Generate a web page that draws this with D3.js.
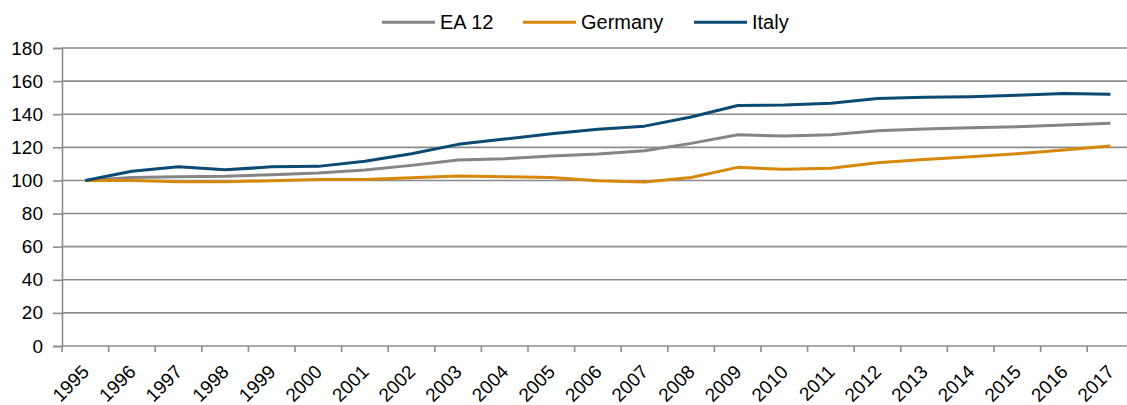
<!DOCTYPE html>
<html>
<head>
<meta charset="utf-8">
<script src="https://cdn.jsdelivr.net/npm/d3@7"></script>
<style>
  html, body { margin: 0; padding: 0; background: #fff; }
  svg { display: block; font-family: Arial, "Liberation Sans", sans-serif; }
</style>
</head>
<body>
<svg id="chart" width="1127" height="405"></svg>
<script>
const years = ["1995","1996","1997","1998","1999","2000","2001","2002","2003","2004","2005","2006","2007","2008","2009","2010","2011","2012","2013","2014","2015","2016","2017"];
const ea12 =    [100, 101.8, 102.2, 102.5, 103.5, 104.5, 106.3, 109.1, 112.3, 113.1, 114.7, 115.9, 117.9, 122.4, 127.6, 126.8, 127.6, 130.0, 131.0, 131.8, 132.4, 133.5, 134.5];
const germany = [100, 100.0, 99.2, 99.2, 99.8, 100.6, 100.6, 101.6, 102.7, 102.2, 101.8, 99.8, 99.0, 101.8, 107.9, 106.7, 107.3, 110.7, 112.7, 114.3, 116.1, 118.4, 120.8];
const italy =   [100, 105.6, 108.3, 106.4, 108.2, 108.5, 111.6, 116.1, 121.8, 125.0, 128.2, 130.9, 132.8, 138.3, 145.3, 145.6, 146.6, 149.5, 150.3, 150.6, 151.5, 152.5, 152.0];
const yTicks = [0, 20, 40, 60, 80, 100, 120, 140, 160, 180];

const seriesNames = ["EA 12", "Germany", "Italy"];
const seriesColors = ["#858585", "#d9870a", "#0b4a72"];
const seriesData = [ea12, germany, italy];

const svg = d3.select("#chart");
const left = 62, bandW = 46.6;
const x = d3.scaleBand().domain(years).range([left, left + bandW * years.length]).padding(0);
const y = d3.scaleLinear().domain([0, 180]).range([346, 48]);
const gridColor = "#8c8c8c";
const font = 'Arial, "Liberation Sans", sans-serif';

// gridlines
svg.append("g").selectAll("line").data(yTicks.filter(d => d > 0)).join("line")
  .attr("x1", left).attr("x2", x.range()[1])
  .attr("y1", d => y(d)).attr("y2", d => y(d))
  .attr("stroke", gridColor).attr("stroke-width", 1.6);

// y axis
const yAxis = svg.append("g").attr("transform", `translate(${left},0)`)
  .call(d3.axisLeft(y).tickValues(yTicks).tickSize(9).tickPadding(10));
yAxis.select(".domain").attr("stroke", gridColor).attr("stroke-width", 1.6);
yAxis.selectAll(".tick line").attr("stroke", gridColor).attr("stroke-width", 1.6);
yAxis.selectAll(".tick text").attr("font-size", 19).attr("fill", "#000")
  .attr("font-family", font);

// x axis line
svg.append("line").attr("x1", left).attr("x2", x.range()[1])
  .attr("y1", y(0)).attr("y2", y(0)).attr("stroke", gridColor).attr("stroke-width", 1.6);
// x ticks at band boundaries
svg.append("g").selectAll("line").data(years).join("line")
  .attr("x1", d => x(d)).attr("x2", d => x(d))
  .attr("y1", y(0)).attr("y2", y(0) + 6)
  .attr("stroke", gridColor).attr("stroke-width", 1.6);
// x labels
svg.append("g").selectAll("text").data(years).join("text")
  .attr("transform", d => `translate(${x(d) + x.bandwidth() / 2 + 5},${y(0) + 27}) rotate(-45)`)
  .attr("text-anchor", "end")
  .attr("font-size", 19).attr("fill", "#000")
  .text(d => d);

// lines
const line = d3.line()
  .x((d, i) => x(years[i]) + x.bandwidth() / 2)
  .y(d => y(d));
seriesData.forEach((s, k) => {
  svg.append("path").datum(s)
    .attr("fill", "none")
    .attr("stroke", seriesColors[k])
    .attr("stroke-width", 3)
    .attr("stroke-linejoin", "round")
    .attr("d", line);
});

// legend
const legendX = [382, 523, 694];
const lg = svg.append("g");
seriesNames.forEach((name, k) => {
  lg.append("line").attr("x1", legendX[k]).attr("x2", legendX[k] + 53)
    .attr("y1", 22.3).attr("y2", 22.3)
    .attr("stroke", seriesColors[k]).attr("stroke-width", 3);
  lg.append("text").attr("x", legendX[k] + 58).attr("y", 29)
    .attr("font-size", 20).attr("fill", "#000").text(name);
});
</script>
</body>
</html>
